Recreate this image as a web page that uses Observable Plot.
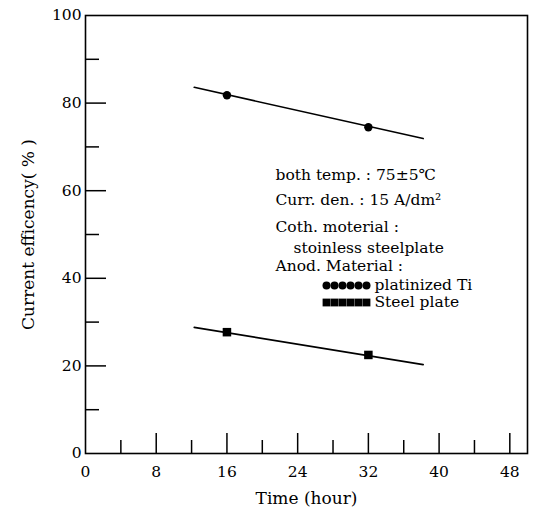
<!DOCTYPE html>
<html>
<head>
<meta charset="utf-8">
<script src="https://cdn.jsdelivr.net/npm/d3@7"></script>
<script src="https://cdn.jsdelivr.net/npm/@observablehq/plot@0.6"></script>
<style>
  html, body { margin: 0; padding: 0; background: #fff; }
  #chart svg { display: block; }
</style>
</head>
<body>
<div id="chart"></div>
<script>
// ---- data ----
const times = [16, 32];
const platinizedTi = [81.8, 74.5];
const steelPlate = [27.7, 22.5];
const fitTimes = [12.3, 38.2];
const platinizedFit = [83.6, 71.9];
const steelFit = [28.8, 20.3];

const xTickLabels = [0, 8, 16, 24, 32, 40, 48];
const xMajorTicks = [8, 16, 24, 32, 40, 48];
const xMinorTicks = [4, 12, 20, 28, 36, 44];
const yTickLabels = [0, 20, 40, 60, 80, 100];
const yMajorTicks = [20, 40, 60, 80];
const yMinorTicks = [10, 30, 50, 70, 90];

const xLabel = "Time (hour)";
const yLabel = "Current efficency( % )";
const notes = [
  "both temp. : 75±5℃",
  "Curr. den. : 15 A/dm²",
  "Coth. moterial :",
  "stoinless steelplate",
  "Anod. Material :"
];
const legendNames = ["platinized Ti", "Steel plate"];
const legendSymbols = ["circle", "square"];

// ---- layout ----
const W = 534, H = 514;
const mL = 85, mR = 7, mT = 15, mB = 61;
const fw = W - mL - mR, fh = H - mT - mB;
const font = "DejaVu Serif";
const noteSize = 15.5;

const points = [
  ...times.map((t, i) => ({t, v: platinizedTi[i], s: legendNames[0]})),
  ...times.map((t, i) => ({t, v: steelPlate[i], s: legendNames[1]}))
];
const fits = [
  ...fitTimes.map((t, i) => ({t, v: platinizedFit[i], s: legendNames[0]})),
  ...fitTimes.map((t, i) => ({t, v: steelFit[i], s: legendNames[1]}))
];

const noteDx = [190, 190, 190, 208, 190];
const noteDy = [160, 185, 212, 233, 251];

const legendMarks = [];
legendNames.forEach((name, i) => {
  const dy = 270 + i * 17;
  for (let k = 0; k < 6; k++) {
    legendMarks.push(Plot.dot([name], {
      frameAnchor: "top-left", dx: 241 + k * 8, dy,
      symbol: legendSymbols[i], r: legendSymbols[i] === "square" ? 4.4 : 4,
      fill: "black", stroke: "none"
    }));
  }
  legendMarks.push(Plot.text([name], {
    frameAnchor: "top-left", dx: 289, dy, text: d => d, lineAnchor: "middle",
    textAnchor: "start", fontSize: noteSize, fontFamily: font, fill: "black"
  }));
});

const chart = Plot.plot({
  width: W, height: H,
  marginLeft: mL, marginRight: mR, marginTop: mT, marginBottom: mB,
  style: {fontFamily: font, background: "white", color: "black"},
  x: {domain: [0, 50], label: null},
  y: {domain: [0, 100], label: null},
  marks: [
    Plot.axisX({ticks: xTickLabels, tickSize: 0, tickPadding: 12, fontSize: 15.5, label: null, tickFormat: d => d}),
    Plot.axisY({ticks: yTickLabels, tickSize: 0, tickPadding: 4, fontSize: 15.5, label: null, tickFormat: d => d}),
    Plot.ruleX(xMajorTicks, {x: d => d, insetTop: fh - 20, stroke: "black", strokeWidth: 1.5}),
    Plot.ruleX(xMinorTicks, {x: d => d, insetTop: fh - 13, stroke: "black", strokeWidth: 1.5}),
    Plot.ruleY(yMajorTicks, {y: d => d, insetRight: fw - 21, stroke: "black", strokeWidth: 1.5}),
    Plot.ruleY(yMinorTicks, {y: d => d, insetRight: fw - 14, stroke: "black", strokeWidth: 1.5}),
    Plot.frame({stroke: "black", strokeWidth: 1.6}),
    Plot.line(fits, {x: "t", y: "v", z: "s", stroke: "black", strokeWidth: 1.6}),
    Plot.dot(points.filter(d => d.s === legendNames[0]), {x: "t", y: "v", symbol: "circle", r: 4.2, fill: "black"}),
    Plot.dot(points.filter(d => d.s === legendNames[1]), {x: "t", y: "v", symbol: "square", r: 4.8, fill: "black"}),
    ...notes.map((n, i) => Plot.text([n], {
      frameAnchor: "top-left", dx: noteDx[i], dy: noteDy[i], text: d => d, lineAnchor: "middle",
      textAnchor: "start", fontSize: noteSize, fontFamily: font, fill: "black"
    })),
    ...legendMarks,
    Plot.text([xLabel], {frameAnchor: "bottom", dy: 45, lineAnchor: "middle", text: d => d, fontSize: 17, fontFamily: font, fill: "black"}),
    Plot.text([yLabel], {frameAnchor: "left", dx: -57, rotate: -90, textAnchor: "middle", lineAnchor: "middle", text: d => d, fontSize: 17, fontFamily: font, fill: "black"})
  ]
});
document.getElementById("chart").appendChild(chart);
</script>
</body>
</html>
